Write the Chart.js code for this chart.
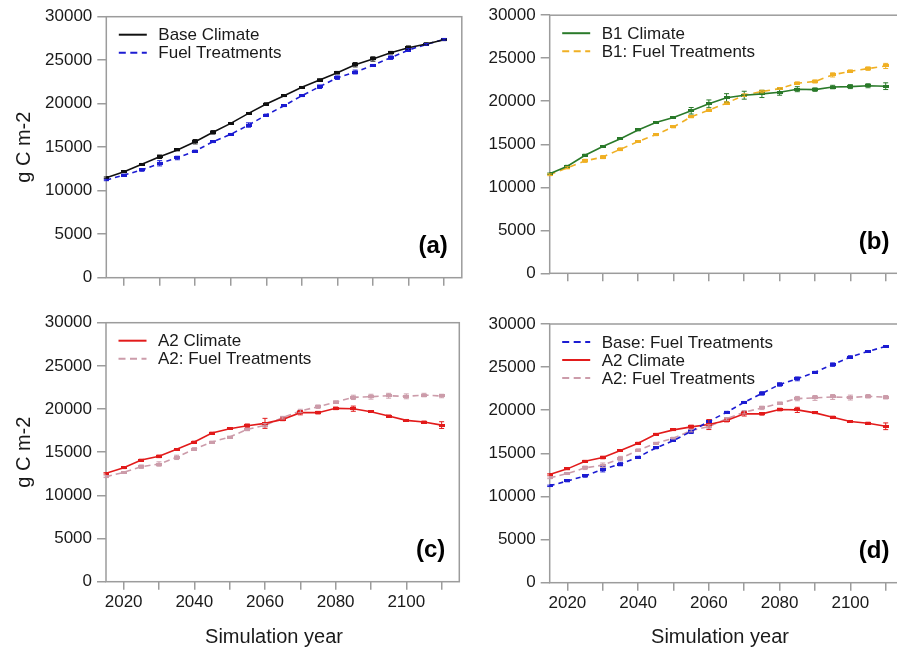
<!DOCTYPE html>
<html><head><meta charset="utf-8">
<script src="https://cdn.jsdelivr.net/npm/chart.js@4.4.1/dist/chart.umd.min.js"></script>
<style>
html,body{margin:0;padding:0;background:#fff;overflow:hidden;width:897px;height:648px;position:relative;}
canvas{position:absolute;}
</style></head><body>
<canvas id="pa"></canvas>
<canvas id="pb"></canvas>
<canvas id="pc"></canvas>
<canvas id="pd"></canvas>
<script>
// ---------- DATA ----------
const years = [2015,2020,2025,2030,2035,2040,2045,2050,2055,2060,2065,2070,2075,2080,2085,2090,2095,2100,2105,2110];
const xTickValues = [2020,2030,2040,2050,2060,2070,2080,2090,2100,2110];
const xTickLabels = [2020,2040,2060,2080,2100];
const yTickValues = [0,5000,10000,15000,20000,25000,30000];

const baseClimate    = [11500,12180,13030,13900,14680,15630,16710,17740,18890,19960,20920,21880,22720,23560,24480,25140,25860,26440,26860,27350];
const baseClimateErr = [80,100,100,200,100,250,200,100,100,150,100,100,150,150,250,250,150,200,150,100];
const baseFuel       = [11230,11800,12380,13150,13760,14560,15630,16480,17550,18700,19770,20920,21950,22990,23640,24410,25290,26170,26820,27400];
const baseFuelErr    = [80,100,150,300,200,100,100,100,250,100,100,100,200,200,220,100,200,150,100,100];

const b1Climate    = [11570,12450,13720,14730,15650,16660,17540,18120,18890,19700,20400,20700,20850,21050,21400,21350,21650,21700,21800,21750];
const b1ClimateErr = [80,100,120,80,80,100,80,100,380,450,480,460,420,350,290,200,200,230,230,390];
const b1Fuel       = [11450,12260,13070,13510,14420,15310,16120,17010,18200,18970,19780,20710,21130,21470,22100,22300,23060,23490,23790,24100];
const b1FuelErr    = [100,120,180,180,160,100,120,100,120,120,150,150,150,100,150,180,240,150,200,300];

const a2Climate    = [12550,13200,14090,14520,15330,16180,17220,17720,18070,18340,18800,19580,19580,20080,20040,19690,19190,18690,18490,18140];
const a2ClimateErr = [80,100,100,150,100,100,100,80,200,580,150,250,150,150,300,80,120,100,120,390];
const a2Fuel       = [12160,12660,13320,13630,14400,15370,16180,16760,17640,18110,19000,19770,20270,20810,21350,21430,21540,21470,21620,21510];
const a2FuelErr    = [100,100,200,250,250,150,100,100,150,200,150,200,200,150,250,280,280,280,200,200];

// ---------- STYLE ----------
const FONT = '"Liberation Sans", Arial, Helvetica, sans-serif';
const TXT = '#1a1a1a';
const AXIS = '#9c9c9c';
const C_BLACK = '#111111', C_BLUE = '#1c1cd2', C_GREEN = '#2a7a2a', C_ORANGE = '#f0b024', C_RED = '#e21b1b', C_PINK = '#cc9caa';

function markerImg(color){
  const c = document.createElement('canvas'); c.width = 6; c.height = 3;
  const g = c.getContext('2d'); g.fillStyle = color; g.fillRect(0,0,6,3); return c;
}
function ds(label, vals, errs, color, dash){
  return {
    label, errors: errs,
    data: years.map((x,i)=>({x, y: vals[i]})),
    borderColor: color, backgroundColor: color, borderWidth: 1.6, borderDash: dash,
    pointStyle: markerImg(color), pointRadius: 3, pointHoverRadius: 3, tension: 0, fill: false
  };
}

const decor = {
  id: 'panelDecor',
  beforeDatasetsDraw(chart, args, o){
    const a = chart.chartArea, ctx = chart.ctx;
    ctx.save(); ctx.strokeStyle = AXIS; ctx.lineWidth = 1.5; ctx.setLineDash([]);
    ctx.strokeRect(a.left, a.top, a.right - a.left, a.bottom - a.top);
    ctx.restore();
  },
  afterDatasetsDraw(chart, args, o){
    const a = chart.chartArea, ctx = chart.ctx;
    const xs = chart.scales.x, ys = chart.scales.y;
    ctx.save();
    // error bars
    chart.data.datasets.forEach(d=>{
      ctx.strokeStyle = d.borderColor; ctx.lineWidth = 1; ctx.setLineDash([]);
      d.data.forEach((p,i)=>{
        const e = d.errors[i];
        const x = xs.getPixelForValue(p.x);
        const y1 = ys.getPixelForValue(p.y + e), y2 = ys.getPixelForValue(p.y - e);
        ctx.beginPath();
        ctx.moveTo(x, y1); ctx.lineTo(x, y2);
        ctx.moveTo(x-2.5, y1); ctx.lineTo(x+2.5, y1);
        ctx.moveTo(x-2.5, y2); ctx.lineTo(x+2.5, y2);
        ctx.stroke();
      });
    });
    // legend
    ctx.font = '17px ' + FONT; ctx.textBaseline = 'middle'; ctx.textAlign = 'left';
    chart.data.datasets.forEach((d,i)=>{
      const y = a.top + 18 + i*18;
      ctx.strokeStyle = d.borderColor; ctx.lineWidth = 2;
      ctx.setLineDash(d.borderDash && d.borderDash.length ? [7,4.5] : []);
      ctx.beginPath(); ctx.moveTo(a.left + 12.5, y); ctx.lineTo(a.left + 40.5, y); ctx.stroke();
      ctx.fillStyle = TXT; ctx.fillText(d.label, a.left + 52, y + 1);
    });
    ctx.setLineDash([]);
    // panel tag
    ctx.font = 'bold 24px ' + FONT; ctx.textAlign = 'right'; ctx.fillStyle = '#000';
    ctx.fillText(o.tag, a.right - 14, a.bottom - 31);
    // x title
    if (o.xTitle){
      ctx.font = '20px ' + FONT; ctx.textAlign = 'center'; ctx.fillStyle = TXT;
      ctx.fillText(o.xTitle, o.xTitleX, o.xTitleY);
    }
    ctx.restore();
  }
};

function makePanel(id, box, area, datasets, opt){
  const cv = document.getElementById(id);
  cv.width = box.w; cv.height = box.h;
  cv.style.left = box.x + 'px'; cv.style.top = box.y + 'px';
  cv.style.width = box.w + 'px'; cv.style.height = box.h + 'px';
  const yW = area.l - box.x, xH = box.y + box.h - area.b;
  new Chart(cv, {
    type: 'line',
    data: { datasets },
    plugins: [decor],
    options: {
      responsive: false, animation: false, devicePixelRatio: 1, events: [],
      layout: { padding: { left: 0, top: area.t - box.y, right: box.x + box.w - area.r, bottom: 0 } },
      plugins: {
        legend: { display: false }, tooltip: { enabled: false },
        panelDecor: { tag: opt.tag, xTitle: opt.xTitle, xTitleX: opt.xTitleX - box.x, xTitleY: opt.xTitleY - box.y }
      },
      scales: {
        x: {
          type: 'linear', min: 2015, max: 2115,
          afterBuildTicks: s => { s.ticks = xTickValues.map(v => ({ value: v })); },
          afterFit: s => { s.height = xH; },
          ticks: { display: opt.xLabels, autoSkip: false, maxRotation: 0, padding: 2, color: TXT,
                   font: { family: FONT, size: 17 },
                   callback: v => xTickLabels.includes(v) ? String(v) : '' },
          grid: { display: true, drawOnChartArea: false, drawTicks: true, tickLength: 8, color: AXIS, lineWidth: 1.5 },
          border: { display: false }
        },
        y: {
          min: 0, max: 30000,
          afterBuildTicks: s => { s.ticks = yTickValues.map(v => ({ value: v })); },
          afterFit: s => { s.width = yW; },
          ticks: { padding: 5, color: TXT, font: { family: FONT, size: 17 }, callback: v => String(v) },
          grid: { display: true, drawOnChartArea: false, drawTicks: true, tickLength: 9, color: AXIS, lineWidth: 1.5 },
          border: { display: false },
          title: { display: opt.yTitle, text: 'g C m-2', color: TXT, font: { family: FONT, size: 20 }, padding: { top: 12.5, bottom: 0 } }
        }
      }
    }
  });
}

makePanel('pa', {x:0, y:0, w:470, h:298}, {l:106.3, t:16.7, r:461.8, b:277.7},
  [ds('Base Climate', baseClimate, baseClimateErr, C_BLACK, []),
   ds('Fuel Treatments', baseFuel, baseFuelErr, C_BLUE, [5,4])],
  {tag:'(a)', xLabels:false, yTitle:true});

makePanel('pb', {x:470, y:0, w:440, h:298}, {l:549.7, t:14, r:903.4, b:273.3},
  [ds('B1 Climate', b1Climate, b1ClimateErr, C_GREEN, []),
   ds('B1: Fuel Treatments', b1Fuel, b1FuelErr, C_ORANGE, [6,5])],
  {tag:'(b)', xLabels:false, yTitle:false});

makePanel('pc', {x:0, y:298, w:470, h:350}, {l:106, t:322.7, r:459.3, b:581.7},
  [ds('A2 Climate', a2Climate, a2ClimateErr, C_RED, []),
   ds('A2: Fuel Treatments', a2Fuel, a2FuelErr, C_PINK, [6,4])],
  {tag:'(c)', xLabels:true, yTitle:true, xTitle:'Simulation year', xTitleX:274, xTitleY:637});

makePanel('pd', {x:470, y:298, w:440, h:350}, {l:549.7, t:324, r:903.4, b:582.7},
  [ds('Base: Fuel Treatments', baseFuel, baseFuelErr, C_BLUE, [5,4]),
   ds('A2 Climate', a2Climate, a2ClimateErr, C_RED, []),
   ds('A2: Fuel Treatments', a2Fuel, a2FuelErr, C_PINK, [6,4])],
  {tag:'(d)', xLabels:true, yTitle:false, xTitle:'Simulation year', xTitleX:720, xTitleY:637});
</script>
</body></html>
